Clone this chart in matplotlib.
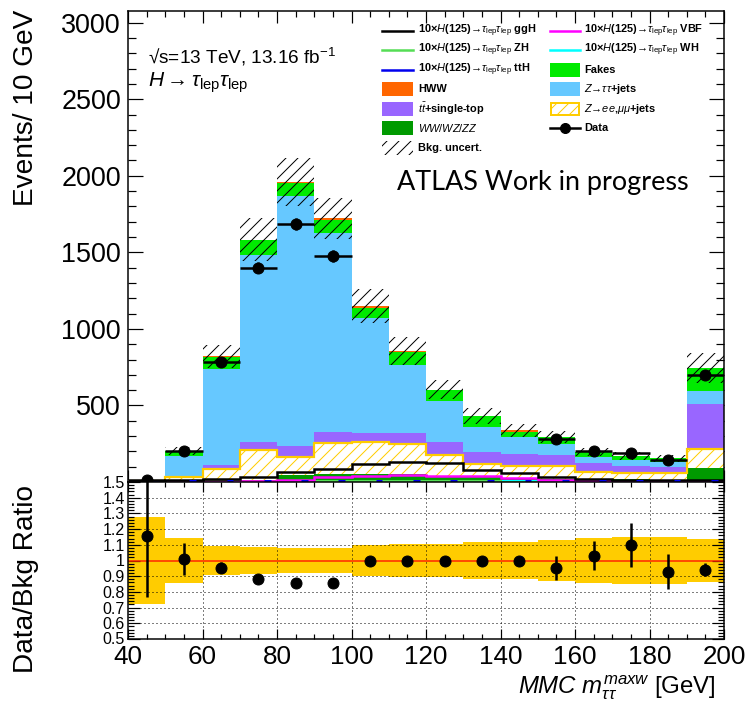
import numpy as np
import matplotlib
matplotlib.use("Agg")
import matplotlib.pyplot as plt
import matplotlib.transforms as mtrans
from matplotlib.patches import Rectangle
from matplotlib.lines import Line2D
from matplotlib.ticker import MultipleLocator, FixedLocator, NullFormatter

plt.rcParams['font.family'] = ['Liberation Sans', 'DejaVu Sans']
plt.rcParams['mathtext.fontset'] = 'custom'
plt.rcParams['mathtext.rm'] = 'Liberation Sans'
plt.rcParams['mathtext.it'] = 'Liberation Sans:italic'
plt.rcParams['mathtext.bf'] = 'Liberation Sans:bold'
plt.rcParams['hatch.linewidth'] = 1.0

# ---------------- data ----------------
bin_edges = [40, 50, 60, 70, 80, 90, 100, 110, 120, 130, 140, 150, 160, 170, 180, 190, 200]

ww_wz_zz = [0.5, 3, 8, 12, 45, 50, 50, 50, 40, 30, 25, 22, 20, 18, 16, 89]
z_eemumu = [3, 27, 77, 197, 116, 207, 209, 196, 136, 88, 80, 83, 47, 43, 41, 127]
ttbar_st = [1.5, 10, 26, 50, 76, 72, 63, 72, 87, 80, 78, 71, 55, 44, 43, 293]
z_tautau = [3, 132, 627, 1224, 1630, 1295, 747, 446, 268, 163, 109, 72, 39, 39, 33, 85]
fakes = [2.4, 30, 80, 95, 88, 88, 70, 87, 70, 67, 37, 44, 34, 26, 22, 148]
hww = [0, 1, 3, 4, 5, 10, 11, 4, 3, 3, 8, 2, 1, 1, 1, 3]

# x10 signal histograms
sig_ggH = [5, 10, 22, 35, 67, 83, 118, 129, 126, 78, 57, 35, 22, 15, 10, 10]
sig_VBF = [0, 1, 3, 6, 15, 33, 38, 45, 41, 38, 24, 14, 8, 6, 4, 5]
sig_ZH = [0, 0, 1, 2, 3, 4, 5, 6, 5, 4, 3, 2, 1, 1, 1, 1]
sig_WH = [0, 0, 1, 2, 4, 6, 8, 9, 8, 6, 4, 3, 2, 1, 1, 2]
sig_ttH = [4, 4, 4, 4, 4, 4, 4, 4, 4, 4, 4, 4, 4, 4, 4, 4]

# data (blinded bins 100-150 GeV are NaN)
data = [12, 205, 783, 1400, 1685, 1476, np.nan, np.nan, np.nan, np.nan, np.nan, 280, 202, 188, 145, 702]
data_err = [4, 21, 29, 35, 40, 38, np.nan, np.nan, np.nan, np.nan, np.nan, 23, 18, 24, 17, 30]

# relative background uncertainty
bkg_rel_unc = [0.278, 0.142, 0.093, 0.088, 0.081, 0.078, 0.097, 0.107, 0.107, 0.12, 0.12, 0.131, 0.142, 0.152, 0.15, 0.135]

main_yticks = [500, 1000, 1500, 2000, 2500, 3000]
ratio_yticks = [0.5, 0.6, 0.7, 0.8, 0.9, 1.0, 1.1, 1.2, 1.3, 1.4, 1.5]
ratio_yticklabels = ['0.5', '0.6', '0.7', '0.8', '0.9', '1', '1.1', '1.2', '1.3', '1.4', '1.5']
xticks = [40, 60, 80, 100, 120, 140, 160, 180, 200]

# ---------------- derived ----------------
edges = np.array(bin_edges, dtype=float)
centers = 0.5 * (edges[:-1] + edges[1:])
halfw = 0.5 * (edges[1:] - edges[:-1])
data_a = np.array(data, dtype=float)
derr_a = np.array(data_err, dtype=float)
rel = np.array(bkg_rel_unc)

C_WW = '#009a00'
C_ZLL = '#ffcc00'
C_TOP = '#9966ff'
C_ZTT = '#66c8ff'
C_FAKE = '#00ea00'
C_HWW = '#ff6600'

W, H = 752, 701
fig = plt.figure(figsize=(W / 72, H / 72), dpi=72)


def fx(px):
    return px / W


def fy(py):
    return 1 - py / H


ax = fig.add_axes([fx(128), fy(482), (724 - 128) / W, (482 - 11) / H])
ax2 = fig.add_axes([fx(128), fy(639), (724 - 128) / W, (639 - 482) / H])

# ---------------- stacked backgrounds ----------------
base = np.zeros(len(centers))
stack_def = [(ww_wz_zz, C_WW), (z_eemumu, None), (ttbar_st, C_TOP),
             (z_tautau, C_ZTT), (fakes, C_FAKE), (hww, C_HWW)]
for vals, col in stack_def:
    top = base + np.array(vals, dtype=float)
    if col is None:
        ax.stairs(top, edges, baseline=base, fill=True, facecolor='white',
                  edgecolor=C_ZLL, hatch='//', lw=0, zorder=2)
        ax.stairs(top, edges, baseline=None, color=C_ZLL, lw=2.2, zorder=2.5)
    else:
        ax.stairs(top, edges, baseline=base, fill=True, color=col, lw=0, zorder=2)
    base = top
total = base

# bkg uncertainty hatch
ax.stairs(total * (1 + rel), edges, baseline=total * (1 - rel), fill=True,
          facecolor='none', edgecolor='black', hatch='//', lw=0, zorder=4)

# signal lines
ax.axhline(6, color='#8a6f6f', lw=3, zorder=3)
for vals, col, lw in [(sig_WH, '#00ffff', 2), (sig_ZH, '#55dd55', 2),
                      (sig_VBF, '#ff00ff', 2.5), (sig_ggH, 'black', 2.5)]:
    ax.stairs(vals, edges, baseline=None, color=col, lw=lw, zorder=3.5)
ax.hlines(sig_ttH, centers + 1.5, centers + 3.3, color='#0000ee', lw=3, zorder=3.6)

# data
mask = ~np.isnan(data_a)
ax.errorbar(centers[mask], data_a[mask], yerr=derr_a[mask], xerr=halfw[mask],
            fmt='o', color='black', ms=11, lw=2.5, capsize=0, zorder=6)

ax.set_xlim(40, 200)
ax.set_ylim(0, 3076)
ax.yaxis.set_major_locator(FixedLocator(main_yticks))
ax.yaxis.set_minor_locator(MultipleLocator(100))
ax.xaxis.set_major_locator(MultipleLocator(20))
ax.xaxis.set_minor_locator(MultipleLocator(5))
ax.xaxis.set_major_formatter(NullFormatter())
ax.tick_params(which='both', direction='in', top=True, right=True, width=1.2)
ax.tick_params(which='major', axis='y', length=15, labelsize=27, pad=7)
ax.tick_params(which='minor', axis='y', length=8)
ax.tick_params(which='major', axis='x', length=12)
ax.tick_params(which='minor', axis='x', length=6)
for s in ax.spines.values():
    s.set_linewidth(1.5)

# ---------------- ratio panel ----------------
ax2.stairs(1 + rel, edges, baseline=1 - rel, fill=True, color=C_ZLL, lw=0, zorder=1)
for yv in ratio_yticks[1:-1]:
    if abs(yv - 1.0) > 1e-6:
        ax2.axhline(yv, color='black', lw=1, ls=(0, (1, 3)), zorder=1.5)
for xv in xticks[1:-1]:
    ax2.axvline(xv, color='black', lw=1, ls=(0, (1, 3)), zorder=1.5)
ax2.axhline(1.0, color='#ff2200', lw=1.5, zorder=2)

blinded = np.isnan(data_a)
ratio = np.where(blinded, 1.0, data_a / total)
ratio_err = np.where(blinded, 0.0, derr_a / total)
ratio_err = np.nan_to_num(ratio_err)
ax2.errorbar(centers, ratio, yerr=ratio_err, fmt='o', color='black', ms=11,
             lw=2.5, capsize=0, zorder=5)

ax2.set_xlim(40, 200)
ax2.set_ylim(0.5, 1.5)
ax2.yaxis.set_major_locator(FixedLocator(ratio_yticks))
ax2.set_yticklabels(ratio_yticklabels)
ax2.yaxis.set_minor_locator(MultipleLocator(0.02))
ax2.xaxis.set_major_locator(FixedLocator(xticks))
ax2.xaxis.set_minor_locator(MultipleLocator(5))
ax2.tick_params(which='both', direction='in', top=True, right=True, width=1.2)
ax2.tick_params(which='major', axis='y', length=12, labelsize=16, pad=3)
ax2.tick_params(which='minor', axis='y', length=6)
ax2.tick_params(which='major', axis='x', length=10, labelsize=26, pad=6)
ax2.tick_params(which='minor', axis='x', length=5)
for s in ax2.spines.values():
    s.set_linewidth(1.5)

# lift the lowest ratio label slightly so it clears the x tick label below
low_tick = ax2.yaxis.get_major_ticks()[0]
low_tick.label1.set_transform(low_tick.label1.get_transform() +
                              mtrans.ScaledTranslation(0, 1.5 / 72, fig.dpi_scale_trans))

# ---------------- titles ----------------
fig.text(fx(33), fy(10), 'Events/ 10 GeV', rotation=90, rotation_mode='anchor',
         ha='right', va='baseline', fontsize=28)
fig.text(fx(33), fy(579), 'Data/Bkg Ratio', rotation=90, rotation_mode='anchor',
         ha='center', va='baseline', fontsize=28)
fig.text(fx(716), fy(694), r'$MMC\ m_{\tau\tau}^{maxw}$ [GeV]', ha='right', va='baseline', fontsize=24)

fig.text(fx(148), fy(64), '\u221as=13 TeV, 13.16 fb$^{-1}$', ha='left', va='baseline', fontsize=19)
fig.text(fx(148), fy(87), r'$H\rightarrow\tau_{\rm lep}\tau_{\rm lep}$', ha='left', va='baseline', fontsize=21)
fig.text(fx(397), fy(190), 'ATLAS Work in progress', ha='left', va='baseline', fontsize=27,
         family=['Lato', 'DejaVu Sans'])

# ---------------- legend ----------------
rows = [31, 50, 70, 89, 109, 128, 148]
sig_lab = '10\u00d7$H$(125)\u2192$\\tau_{\\rm lep}\\tau_{\\rm lep}$ '
col1 = [('line', 'black', sig_lab + 'ggH'),
        ('line', '#55dd55', sig_lab + 'ZH'),
        ('line', '#0000ee', sig_lab + 'ttH'),
        ('box', C_HWW, 'HWW'),
        ('box', C_TOP, r'$t\bar{t}$+single-top'),
        ('box', C_WW, r'$WW/WZ/ZZ$'),
        ('unc', 'black', 'Bkg. uncert.')]
col2 = [('line', '#ff00ff', sig_lab + 'VBF'),
        ('line', '#00ffff', sig_lab + 'WH'),
        ('box', C_FAKE, 'Fakes'),
        ('box', C_ZTT, '$Z$\u2192$\\tau\\tau$+jets'),
        ('zll', C_ZLL, '$Z$\u2192$ee$,$\\mu\\mu$+jets'),
        ('data', 'black', 'Data')]
for (x0, x1, xt), entries in [((382, 413, 418), col1), ((550, 580, 584), col2)]:
    for row_y, (kind, col, lab) in zip(rows, entries):
        if kind == 'line':
            fig.add_artist(Line2D([fx(x0), fx(x1)], [fy(row_y), fy(row_y)],
                                  transform=fig.transFigure, color=col, lw=2.5))
        elif kind == 'box':
            fig.add_artist(Rectangle((fx(x0), fy(row_y + 7)), (x1 - x0) / W, 14 / H,
                                     transform=fig.transFigure, facecolor=col, edgecolor='none'))
        elif kind == 'zll':
            fig.add_artist(Rectangle((fx(x0 + 1), fy(row_y + 6)), (x1 - x0 - 2) / W, 12 / H,
                                     transform=fig.transFigure, facecolor='white',
                                     edgecolor=C_ZLL, hatch='//', lw=2))
        elif kind == 'unc':
            fig.add_artist(Rectangle((fx(x0), fy(row_y + 7)), (x1 - x0) / W, 14 / H,
                                     transform=fig.transFigure, facecolor='none',
                                     edgecolor='black', hatch='//', lw=0))
        elif kind == 'data':
            fig.add_artist(Line2D([fx(x0), fx(x1)], [fy(row_y), fy(row_y)],
                                  transform=fig.transFigure, color=col, lw=2.5))
            fig.add_artist(Line2D([fx((x0 + x1) / 2)], [fy(row_y)], transform=fig.transFigure,
                                  color=col, marker='o', ms=10))
        fig.text(fx(xt), fy(row_y), lab, ha='left', va='center', fontsize=11, fontweight='bold')

fig.savefig('out.png', dpi=72)
